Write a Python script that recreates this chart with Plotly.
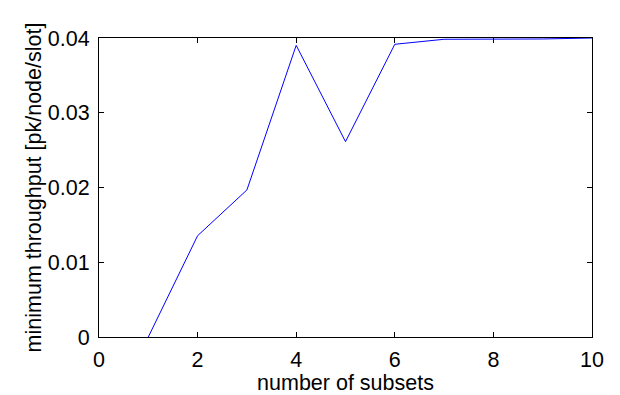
import plotly.graph_objects as go

subsets = [1, 2, 3, 4, 5, 6, 7, 8, 9, 10]
min_throughput = [0.0, 0.01355, 0.01967, 0.03902, 0.02613, 0.03916, 0.03983, 0.03985, 0.03987, 0.04]

x_ticks = [0, 2, 4, 6, 8, 10]
y_ticks = [0, 0.01, 0.02, 0.03, 0.04]
y_tick_labels = ["0", "0.01", "0.02", "0.03", "0.04"]

fig = go.Figure()
fig.add_trace(go.Scatter(x=subsets, y=min_throughput, mode="lines",
                         line=dict(color="#0000ff", width=1), showlegend=False,
                         cliponaxis=False))

font = dict(family="Liberation Sans, Arial, Helvetica, sans-serif", size=21.5, color="black")
title_font = dict(family="Liberation Sans, Arial, Helvetica, sans-serif", size=21.5, color="black")
axis_common = dict(showgrid=False, zeroline=False, showline=True, linecolor="black",
                   linewidth=1, mirror="ticks", ticks="inside", ticklen=5,
                   tickcolor="black", tickwidth=1, tickfont=font, automargin=False)

fig.update_layout(
    width=620, height=395,
    margin=dict(l=99, r=28, t=38, b=58),
    paper_bgcolor="white", plot_bgcolor="white",
    font=font,
    xaxis=dict(range=[0, 10], tickvals=x_ticks, ticktext=[str(v) for v in x_ticks],
               ticklabelstandoff=3,
               title=dict(text="number of subsets", font=title_font, standoff=4), **axis_common),
    yaxis=dict(range=[0, 0.04], tickvals=y_ticks, ticktext=y_tick_labels,
               ticklabelstandoff=4,
               title=dict(text="minimum throughput [pk/node/slot]", font=title_font, standoff=0),
               **axis_common),
)

fig.write_html("out.html")
